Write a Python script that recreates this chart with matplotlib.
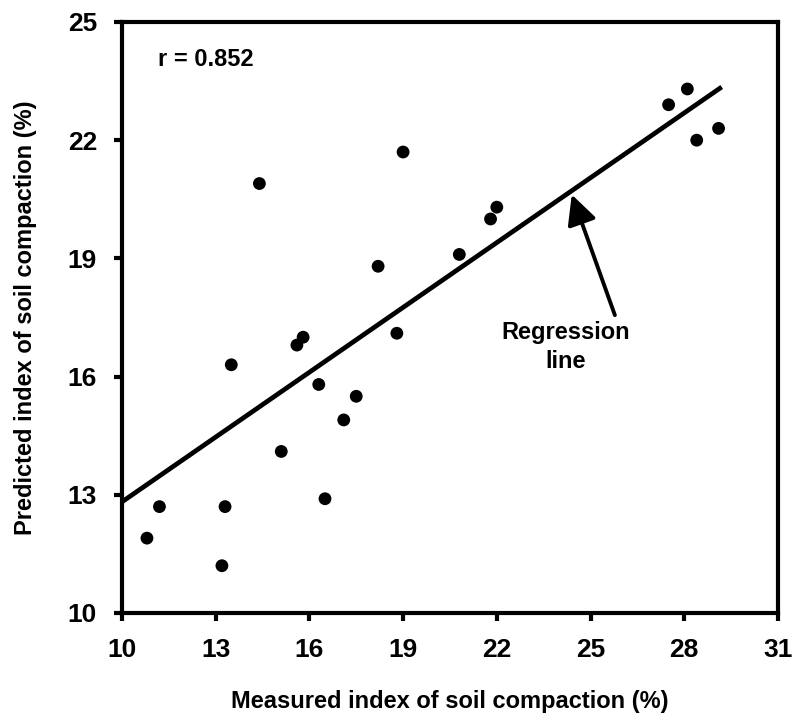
import matplotlib
matplotlib.use('Agg')
import matplotlib.pyplot as plt
from matplotlib import font_manager

# measured vs predicted soil compaction index (%)
measured = [10.8, 11.2, 13.2, 13.3, 13.5, 14.4, 15.1, 15.6, 15.8, 16.3, 16.5,
            17.1, 17.5, 18.2, 18.8, 19.0, 20.8, 21.8, 22.0, 27.5, 28.1, 28.4, 29.1]
predicted = [11.9, 12.7, 11.2, 12.7, 16.3, 20.9, 14.1, 16.8, 17.0, 15.8, 12.9,
             14.9, 15.5, 18.8, 17.1, 21.7, 19.1, 20.0, 20.3, 22.9, 23.3, 22.0, 22.3]

# regression line end points
line_x = [10.0, 29.2]
line_y = [12.82, 23.35]

x_ticks = [10, 13, 16, 19, 22, 25, 28, 31]
y_ticks = [10, 13, 16, 19, 22, 25]

names = {f.name for f in font_manager.fontManager.ttflist}
fam = ['Liberation Sans Narrow'] if 'Liberation Sans Narrow' in names else ['Liberation Sans']
fam = fam + ['DejaVu Sans']
plt.rcParams['font.family'] = fam
plt.rcParams['font.weight'] = 'bold'

fig = plt.figure(figsize=(7.93, 7.21), dpi=100)
ax = fig.add_axes([0.1538, 0.1498, 0.8272, 0.8197])

ax.plot(line_x, line_y, color='black', lw=3.4, solid_capstyle='butt', zorder=2)
ax.scatter(measured, predicted, s=85, color='black', edgecolors='none', zorder=3)

ax.set_xlim(10, 31)
ax.set_ylim(10, 25)
ax.set_xticks(x_ticks)
ax.set_yticks(y_ticks)
ax.tick_params(direction='out', length=6, width=3, labelsize=19, pad=12)
for lab in ax.get_xticklabels() + ax.get_yticklabels():
    lab.set_fontweight('bold')
for sp in ax.spines.values():
    sp.set_linewidth(3)

ax.set_xlabel('Measured index of soil compaction (%)', fontsize=17,
              fontweight='bold', labelpad=20)
ax.set_ylabel('Predicted index of soil compaction (%)', fontsize=17,
              fontweight='bold', labelpad=22)

ax.text(11.15, 24.05, 'r = 0.852', fontsize=17, fontweight='bold',
        ha='left', va='center')

# arrow pointing at the regression line
ax.annotate('', xy=(24.4, 20.62), xytext=(25.78, 17.56),
            arrowprops=dict(arrowstyle='-|>,head_length=0.9,head_width=0.45',
                            mutation_scale=20, color='black', lw=2.8,
                            shrinkA=0, shrinkB=0))
ax.text(24.2, 16.75, 'Regression\nline', fontsize=17, fontweight='bold',
        ha='center', va='center', linespacing=1.35)

fig.savefig('out.png', dpi=100, facecolor='white')
